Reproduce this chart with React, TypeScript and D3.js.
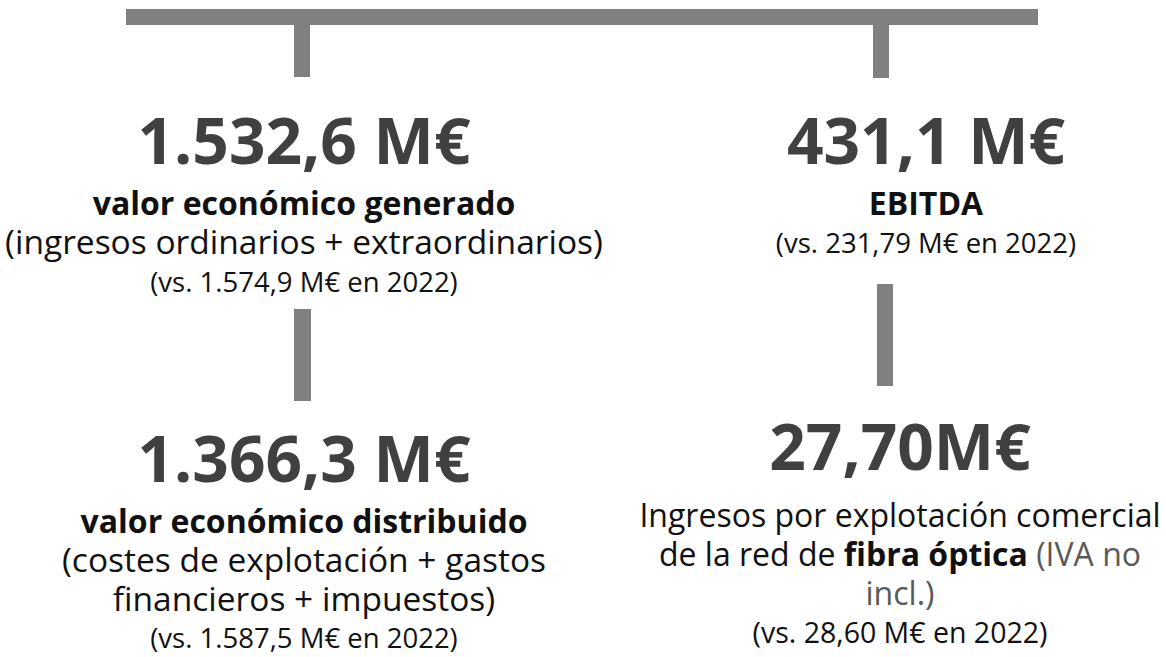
import React from "react";
import * as d3 from "d3";

// Key figures (2023) shown in the four blocks
const blockIds = ["generado", "ebitda", "distribuido", "fibra"];
const bigValues = ["1.532,6 M€", "431,1 M€", "1.366,3 M€", "27,70M€"];
const boldLabels = ["valor económico generado", "EBITDA", "valor económico distribuido", ""];
const detailLines = [
  ["(ingresos ordinarios + extraordinarios)"],
  [],
  ["(costes de explotación + gastos", "financieros + impuestos)"],
  [],
];
const previousYear = [
  "(vs. 1.574,9 M€ en 2022)",
  "(vs. 231,79 M€ en 2022)",
  "(vs. 1.587,5 M€ en 2022)",
  "(vs. 28,60 M€ en 2022)",
];

const width = 1166;
const height = 657;
const font = "'Open Sans', sans-serif";
const barColor = "#808080";
const numberColor = "#404040";
const textColor = "#111";

const App = () => {
  // column centres and baseline of the big number in each block
  const colX = d3.scaleOrdinal<string, number>().domain(blockIds).range([304, 926, 304, 900]);
  const rowY = d3.scaleOrdinal<string, number>().domain(blockIds).range([164, 164, 482, 470]);

  const block = (id: string, i: number) => {
    const x = colX(id);
    const y = rowY(id);
    let cursor = y;
    const out: React.ReactNode[] = [];
    out.push(
      <text key="v" x={x} y={cursor} textAnchor="middle" fontSize={64} fontWeight={700} fill={numberColor}>
        {bigValues[i]}
      </text>
    );
    if (boldLabels[i]) {
      cursor += 51;
      out.push(
        <text key="b" x={x} y={cursor} textAnchor="middle" fontSize={32} fontWeight={700} fill={textColor}>
          {boldLabels[i]}
        </text>
      );
    }
    detailLines[i].forEach((t, j) => {
      cursor += j === 0 ? 39 : 39;
      out.push(
        <text key={`d${j}`} x={x} y={cursor} textAnchor="middle" fontSize={33.5} fill={textColor}>
          {t}
        </text>
      );
    });
    if (id === "fibra") {
      out.push(
        <text key="f1" x={x} y={y + 57} textAnchor="middle" fontSize={32} fill={textColor}>
          Ingresos por explotación comercial
        </text>,
        <text key="f2" x={x} y={y + 96} textAnchor="middle" fontSize={32} fill={textColor}>
          de la red de <tspan fontWeight={700}>fibra óptica</tspan>
          <tspan fill="#595959"> (IVA no</tspan>
        </text>,
        <text key="f3" x={x} y={y + 135} textAnchor="middle" fontSize={32} fill="#595959">
          incl.)
        </text>
      );
      cursor = y + 135;
    }
    cursor += id === "distribuido" ? 37 : 38;
    out.push(
      <text key="p" x={x} y={cursor} textAnchor="middle" fontSize={id === "fibra" ? 28.5 : 27.5} fill={textColor}>
        {previousYear[i]}
      </text>
    );
    return <g key={id}>{out}</g>;
  };

  return (
    <svg
      width={width}
      height={height}
      style={{ position: "absolute", left: 0, top: 0, background: "#fff" }}
      fontFamily={font}
    >
      {/* connector bars */}
      <rect x={126} y={9} width={912} height={16} fill={barColor} />
      <rect x={294} y={25} width={16} height={52} fill={barColor} />
      <rect x={873} y={25} width={16} height={53} fill={barColor} />
      <rect x={294} y={309} width={17} height={92} fill={barColor} />
      <rect x={877} y={284} width={16} height={102} fill={barColor} />
      {blockIds.map(block)}
    </svg>
  );
};

export default App;
